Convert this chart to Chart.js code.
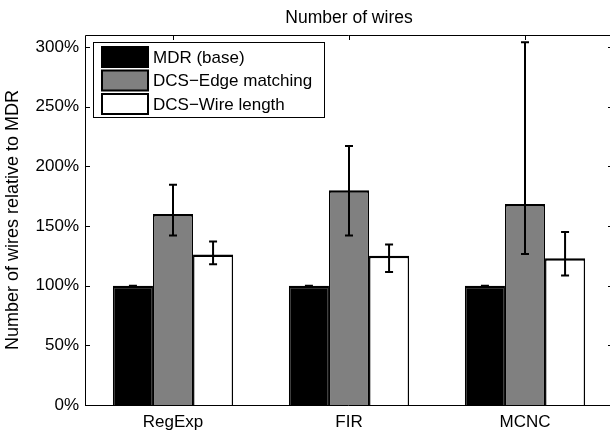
<!DOCTYPE html>
<html>
<head>
<meta charset="utf-8">
<script src="https://cdn.jsdelivr.net/npm/chart.js@4.4.1/dist/chart.umd.min.js"></script>
<style>
  html, body { margin: 0; padding: 0; background: #fff; overflow: hidden; }
  #wrap { width: 610px; height: 433px; }
</style>
</head>
<body>
<div id="wrap"><canvas id="wires"></canvas></div>
<script>
// データ（参照画像から読み取り）
const categories = ['RegExp', 'FIR', 'MCNC'];
const seriesNames = ['MDR (base)', 'DCS\u2212Edge matching', 'DCS\u2212Wire length'];
const mdrValues = [100, 100, 100];
const edgeValues = [160, 180, 168.5];
const edgeHigh = [184.5, 217, 304];
const edgeLow = [142, 142, 126.5];
const wireValues = [126, 125, 123];
const wireHigh = [137, 134.5, 145];
const wireLow = [118, 111.5, 108.5];
const yTicks = [0, 50, 100, 150, 200, 250, 300];
const yMax = 310;

const FONT = 'Liberation Sans, Arial, Helvetica, sans-serif';
const fills = ['#000000', '#808080', '#ffffff'];
const errHigh = [mdrValues, edgeHigh, wireHigh];
const errLow = [mdrValues, edgeLow, wireLow];
// 右の軸は画像の外（613px）にある
const AXIS_RIGHT = 613;

const boxPlugin = {
    id: 'matlabBox',
    // x軸を画面外まで伸ばす
    afterLayout(chart) {
        const x = chart.scales.x;
        x.right = AXIS_RIGHT;
        x.width = x.right - x.left;
        x.configure();
    },
    // 内向きの目盛り
    beforeDatasetsDraw(chart) {
        const { ctx, chartArea: a, scales } = chart;
        const right = scales.x.right;
        ctx.save();
        ctx.strokeStyle = '#000';
        ctx.lineWidth = 1;
        ctx.beginPath();
        yTicks.forEach(v => {
            const y = Math.round(scales.y.getPixelForValue(v)) + 0.5;
            ctx.moveTo(a.left, y); ctx.lineTo(a.left + 5, y);
            ctx.moveTo(right, y); ctx.lineTo(right - 5, y);
        });
        categories.forEach((c, i) => {
            const x = Math.round(scales.x.getPixelForValue(i)) + 0.5;
            ctx.moveTo(x, a.top); ctx.lineTo(x, a.top + 5);
            ctx.moveTo(x, a.bottom); ctx.lineTo(x, a.bottom - 5);
        });
        ctx.stroke();
        ctx.restore();
    },
    afterDatasetsDraw(chart) {
        const { ctx, chartArea: a, scales } = chart;
        ctx.save();
        // エラーバー
        ctx.strokeStyle = '#000';
        ctx.lineWidth = 2;
        chart.data.datasets.forEach((ds, i) => {
            const meta = chart.getDatasetMeta(i);
            meta.data.forEach((bar, j) => {
                const yh = scales.y.getPixelForValue(errHigh[i][j]);
                const yl = scales.y.getPixelForValue(errLow[i][j]);
                ctx.beginPath();
                ctx.moveTo(bar.x, yh); ctx.lineTo(bar.x, yl);
                ctx.moveTo(bar.x - 4, yh); ctx.lineTo(bar.x + 4, yh);
                ctx.moveTo(bar.x - 4, yl); ctx.lineTo(bar.x + 4, yl);
                ctx.stroke();
            });
        });
        // 枠線（左・上・下）
        ctx.lineWidth = 1;
        const l = Math.round(a.left) + 0.5;
        const t = Math.round(a.top) + 0.5;
        const b = Math.round(a.bottom) + 0.5;
        ctx.beginPath();
        ctx.moveTo(scales.x.right, t); ctx.lineTo(l, t);
        ctx.lineTo(l, b); ctx.lineTo(scales.x.right, b);
        ctx.stroke();
        ctx.restore();
    },
    afterDraw(chart) {
        const { ctx } = chart;
        ctx.save();
        // タイトル
        ctx.fillStyle = '#000';
        ctx.font = '17.5px ' + FONT;
        ctx.textAlign = 'center';
        ctx.textBaseline = 'middle';
        ctx.fillText('Number of wires', 349, 18);
        // 凡例
        ctx.font = '17px ' + FONT;
        ctx.fillStyle = '#fff';
        ctx.fillRect(93.5, 42.5, 231, 75);
        ctx.strokeStyle = '#000';
        ctx.lineWidth = 1;
        ctx.strokeRect(93.5, 42.5, 231, 75);
        const rows = [57, 80.5, 104];
        seriesNames.forEach((name, i) => {
            ctx.fillStyle = fills[i];
            ctx.fillRect(102, rows[i] - 10, 46, 20);
            ctx.lineWidth = 2;
            ctx.strokeRect(102, rows[i] - 10, 46, 20);
            ctx.fillStyle = '#000';
            ctx.textAlign = 'left';
            ctx.fillText(name, 153, rows[i] + 1);
        });
        ctx.restore();
    }
};

const datasets = [mdrValues, edgeValues, wireValues].map((vals, i) => ({
    label: seriesNames[i],
    data: vals,
    backgroundColor: fills[i],
    borderColor: '#000',
    borderWidth: { top: 2.5, left: 1.5, right: 1.5, bottom: 0 },
    borderSkipped: 'bottom',
    categoryPercentage: 0.683,
    barPercentage: 1.0
}));

new Chart(document.getElementById('wires'), {
    type: 'bar',
    data: { labels: categories, datasets: datasets },
    plugins: [boxPlugin],
    options: {
        responsive: true,
        maintainAspectRatio: false,
        animation: false,
        devicePixelRatio: 1,
        layout: { padding: { top: 35, left: 0, right: 0, bottom: 0 } },
        plugins: {
            legend: { display: false },
            tooltip: { enabled: false }
        },
        scales: {
            x: {
                grid: { display: false, drawTicks: false },
                border: { display: false },
                ticks: { color: '#000', font: { family: FONT, size: 17 }, padding: 7 },
                afterFit(scale) { scale.height = 28; }
            },
            y: {
                min: 0,
                max: yMax,
                grid: { display: false, drawTicks: false },
                border: { display: false },
                ticks: {
                    color: '#000',
                    font: { family: FONT, size: 17 },
                    padding: 6,
                    stepSize: 50,
                    callback: v => v + '%'
                },
                afterBuildTicks(scale) {
                    scale.ticks = yTicks.map(v => ({ value: v }));
                },
                title: {
                    display: true,
                    text: 'Number of wires relative to MDR',
                    color: '#000',
                    font: { family: FONT, size: 18 },
                    padding: { top: 2, bottom: 0 }
                },
                afterFit(scale) { scale.width = 85; }
            }
        }
    }
});
</script>
</body>
</html>
